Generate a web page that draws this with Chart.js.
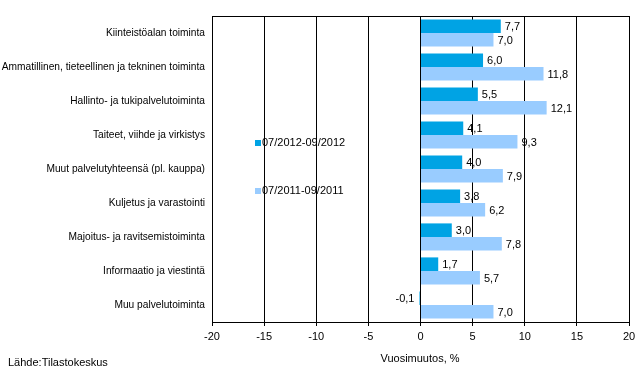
<!DOCTYPE html>
<html><head><meta charset="utf-8">
<script src="https://cdn.jsdelivr.net/npm/chart.js@4"></script>
<style>html,body{margin:0;padding:0;background:#fff}#wrap{width:643px;height:388px}</style>
</head><body><div id="wrap"><canvas id="c" width="643" height="388"></canvas></div>
<script>
const categories = ["Kiinteistöalan toiminta","Ammatillinen, tieteellinen ja tekninen toiminta","Hallinto- ja tukipalvelutoiminta","Taiteet, viihde ja virkistys","Muut palvelutyhteensä (pl. kauppa)","Kuljetus ja varastointi","Majoitus- ja ravitsemistoiminta","Informaatio ja viestintä","Muu palvelutoiminta"];
const series2012 = [7.7, 6.0, 5.5, 4.1, 4.0, 3.8, 3.0, 1.7, -0.1];
const series2011 = [7.0, 11.8, 12.1, 9.3, 7.9, 6.2, 7.8, 5.7, 7.0];
const seriesNames = ["07/2012-09/2012","07/2011-09/2011"];
const xTicks = [-20,-15,-10,-5,0,5,10,15,20];
const axisTitle = "Vuosimuutos, %";
const sourceText = "Lähde:Tilastokeskus";
const colors = ["#00A3E4","#99CCFF"];
const FONT = "Liberation Sans";

const fmt = v => v.toFixed(1).replace('.', ',');

const extras = {
  id: 'extras',
  afterDatasetsDraw(chart) {
    const ctx = chart.ctx, a = chart.chartArea;
    ctx.save();
    ctx.strokeStyle = '#000'; ctx.lineWidth = 1;
    ctx.beginPath(); ctx.moveTo(a.left, a.top + 0.5); ctx.lineTo(a.right, a.top + 0.5); ctx.stroke();
    ctx.font = '11px "' + FONT + '"'; ctx.fillStyle = '#000'; ctx.textBaseline = 'middle';
    chart.data.datasets.forEach((ds, di) => {
      chart.getDatasetMeta(di).data.forEach((bar, i) => {
        const v = ds.data[i];
        if (v >= 0) { ctx.textAlign = 'left'; ctx.fillText(fmt(v), bar.x + 4, bar.y + 1); }
        else { ctx.textAlign = 'right'; ctx.fillText(fmt(v), bar.x - 5, bar.y + 1); }
      });
    });
    const ly = [143, 191];
    seriesNames.forEach((n, i) => {
      ctx.fillStyle = colors[i];
      ctx.fillRect(255, ly[i] - 3, 6, 6);
      ctx.fillStyle = '#000'; ctx.textAlign = 'left';
      ctx.fillText(n, 262, ly[i]);
    });
    ctx.textAlign = 'center';
    ctx.fillText(axisTitle, 420, 359);
    ctx.textAlign = 'left';
    ctx.fillText(sourceText, 8, 363);
    ctx.restore();
  }
};

new Chart(document.getElementById('c'), {
  type: 'bar',
  data: {
    labels: categories,
    datasets: [
      { label: seriesNames[0], data: series2012, backgroundColor: colors[0], categoryPercentage: 0.8, barPercentage: 1.0 },
      { label: seriesNames[1], data: series2011, backgroundColor: colors[1], categoryPercentage: 0.8, barPercentage: 1.0 }
    ]
  },
  options: {
    indexAxis: 'y',
    responsive: false,
    animation: false,
    layout: { padding: { left: 0, top: 16, right: 14, bottom: 0 } },
    plugins: { legend: { display: false }, tooltip: { enabled: false } },
    scales: {
      x: {
        min: -20, max: 20,
        afterBuildTicks: s => { s.ticks = xTicks.map(v => ({ value: v })); },
        afterFit: s => { s.height = 66; },
        grid: { color: '#000', lineWidth: 1, tickLength: 4, drawTicks: true },
        border: { color: '#000' },
        ticks: { color: '#000', font: { family: FONT, size: 11 }, padding: 4, maxRotation: 0, autoSkip: false }
      },
      y: {
        afterFit: s => { s.width = 212; },
        grid: { display: false, drawTicks: false, tickLength: 0 },
        border: { display: true, color: '#000' },
        ticks: { color: '#000', font: { family: FONT, size: 10.2 }, padding: 7, autoSkip: false }
      }
    }
  },
  plugins: [extras]
});
</script>
</body></html>
